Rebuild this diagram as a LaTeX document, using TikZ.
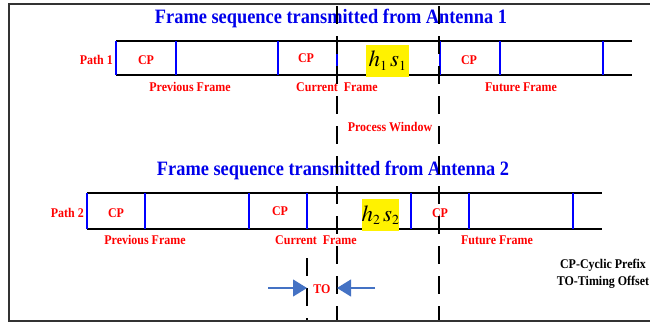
\documentclass[tikz,border=0pt]{standalone}
\usepackage{mathptmx}
\usepackage{fontspec}
\setmainfont{Liberation Serif}[FakeStretch=0.9]
\usetikzlibrary{arrows.meta}
\usetikzlibrary{positioning}
\definecolor{titleblue}{RGB}{0,0,235}
\definecolor{labelred}{RGB}{255,0,0}
\definecolor{arrowblue}{RGB}{68,114,196}
\tikzset{title/.style = {text=titleblue, font=\fontsize{20.4}{20}\selectfont\bfseries, inner sep=0}}
\tikzset{lbl/.style = {text=labelred, font=\fontsize{13.3}{14}\selectfont\bfseries, inner sep=0}}
\tikzset{bar/.style = {blue, line width=1.6pt}}
\tikzset{rail/.style = {black, line width=1.2pt}}
\tikzset{window/.style = {black, line width=1.6pt, dash pattern=on 18pt off 12pt}}
\tikzset{sym/.style = {fill=yellow, inner sep=0, minimum height=32, font=\fontsize{23}{23}\selectfont}}
\tikzset{offset/.style = {arrowblue, line width=1.2pt, -{Triangle[length=14pt, width=17pt]}}}
\tikzset{legend/.style = {font=\fontsize{13.3}{17}\selectfont\bfseries, align=center, inner sep=0}}

\begin{document}
\begin{tikzpicture}[x=1pt, y=-1pt]
  \useasboundingbox (0,0) rectangle (650,324);
  \draw [line width=2.2pt, black!80] (660,4) -- (9,4) -- (9,321) -- (660,321);

  % antenna 1
  \node [title] (ant1) at (331,18) {Frame sequence transmitted from Antenna 1};
  \draw [rail] (116,41) -- (632,41);
  \draw [rail] (116,75) -- (632,75);
  \foreach \x in {116,176,278,337,440,500,603}
    \draw [bar] (\x,41) -- (\x,75);
  \node [lbl, anchor=east] (path1) at (113,60) {Path 1};
  \node [lbl] (cp1a) at (146,60) {CP};
  \node [lbl] (cp1b) at (306,58) {CP};
  \node [sym, minimum width=43] (hs1) at (387.5,60.5) {$h_{\scriptscriptstyle 1}\,s_{\scriptscriptstyle 1}$};
  \node [lbl] (cp1c) at (469,60) {CP};
  \node [lbl] (prev1) at (190,87) {Previous Frame};
  \node [lbl] (curr1) at (337,87) {Current\ \ Frame};
  \node [lbl] (fut1) at (521,87) {Future Frame};
  \node [lbl] (window) at (390,127) {Process Window};

  % antenna 2
  \node [title] (ant2) at (333,170) {Frame sequence transmitted from Antenna 2};
  \draw [rail] (87,193) -- (602,193);
  \draw [rail] (87,229) -- (602,229);
  \foreach \x in {87,145,249,307,411,469,573}
    \draw [bar] (\x,193) -- (\x,229);
  \node [lbl, anchor=east] (path2) at (84,213) {Path 2};
  \node [lbl] (cp2a) at (116,213) {CP};
  \node [lbl] (cp2b) at (280,211) {CP};
  \node [sym, minimum width=37] (hs2) at (380.5,215) {$h_{\scriptscriptstyle 2}\,s_{\scriptscriptstyle 2}$};
  \node [lbl] (cp2c) at (440,213) {CP};
  \node [lbl] (prev2) at (145,240) {Previous Frame};
  \node [lbl] (curr2) at (316,240) {Current\ \ Frame};
  \node [lbl] (fut2) at (497,240) {Future Frame};

  % process window and timing offset
  \draw [window] (337,6) -- (337,320);
  \draw [window] (439,6) -- (439,320);
  \draw [window] (307,258) -- (307,320);
  \coordinate (toA) at (268,288);
  \coordinate (toB) at (307,288);
  \coordinate (toC) at (337,288);
  \coordinate (toD) at (375,288);
  \draw [offset] (toA) -- (toB);
  \draw [offset] (toD) -- (toC);
  \node [lbl] (to) at (322,289) {TO};

  \node [legend] (key) at (603,273.5) {CP-Cyclic Prefix\\TO-Timing Offset};
\end{tikzpicture}
\end{document}
